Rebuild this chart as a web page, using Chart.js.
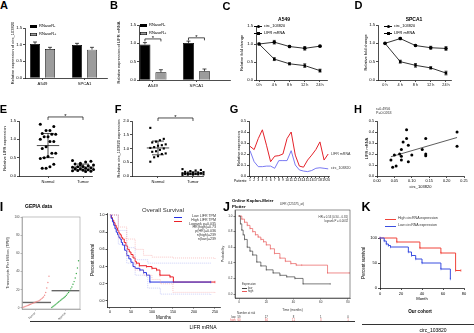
<!DOCTYPE html>
<html>
<head>
<meta charset="utf-8">
<script src="https://cdn.jsdelivr.net/npm/chart.js@4.4.1/dist/chart.umd.min.js"></script>
<style>
html, body { margin: 0; padding: 0; background: #fff; }
#page { position: relative; width: 474px; height: 333px; overflow: hidden; font-family: "Liberation Sans", Arial, sans-serif; color: #000; }
#page canvas { position: absolute; }
.t { position: absolute; white-space: nowrap; line-height: 1; }
.r { position: absolute; height: 0; }
</style>
</head>
<body>
<div id="page"></div>
<script>
const FONT = '"Liberation Sans", Arial, sans-serif';

// A / B: RNase R digestion
const cellLines = ['A549', 'SPCA1'];
const circMinus = [1.02, 0.99], circPlus = [0.87, 0.85];
const circMinusErr = [0.06, 0.05], circPlusErr = [0.05, 0.07];
const lifrMinus = [0.97, 1.01], lifrPlus = [0.21, 0.24];
const lifrMinusErr = [0.05, 0.05], lifrPlusErr = [0.07, 0.06];
const lifrBracketY = [1.12, 1.15];

// C / D: time course
const hours = ['0 h', '4 h', '8 h', '12 h', '24 h'];
const a549Circ = [1.0, 1.05, 0.93, 0.88, 0.94], a549CircErr = [0, 0.05, 0.03, 0.05, 0.02];
const a549Lifr = [1.0, 0.58, 0.45, 0.40, 0.26], a549LifrErr = [0, 0.04, 0.03, 0.05, 0.04];
const spcaCirc = [1.0, 1.13, 0.94, 0.88, 0.86], spcaCircErr = [0, 0.03, 0.02, 0.04, 0.05];
const spcaLifr = [1.0, 0.50, 0.40, 0.33, 0.19], spcaLifrErr = [0, 0.04, 0.05, 0.03, 0.05];

// E / F: tissue expression
const groups = ['Normal', 'Tumor'];
const eNormal = [1.41, 1.35, 1.24, 1.24, 1.16, 1.14, 1.14, 1.07, 1.07, 1.0, 0.94, 0.94, 0.8, 0.75, 0.62, 0.62, 0.53, 0.5, 0.48, 0.32, 0.25, 0.21, 0.21];
const eTumor = [0.42, 0.4, 0.38, 0.35, 0.33, 0.3, 0.28, 0.26, 0.25, 0.24, 0.22, 0.21, 0.2, 0.19, 0.18, 0.17, 0.16, 0.15, 0.14, 0.13, 0.12, 0.3, 0.2];
const eMean = [0.83, 0.245], eSd = [0.33, 0.08];
const fNormal = [1.75, 1.35, 1.3, 1.25, 1.22, 1.15, 1.12, 1.1, 1.05, 1.02, 1.0, 0.95, 0.9, 0.88, 0.82, 0.8, 0.72, 0.68, 0.52];
const fTumor = [0.25, 0.22, 0.2, 0.18, 0.15, 0.14, 0.12, 0.12, 0.1, 0.1, 0.09, 0.08, 0.08, 0.07, 0.06, 0.06, 0.05, 0.05, 0.04, 0.1];
const fMean = [1.02, 0.1], fSd = [0.25, 0.05];

// G / H: paired patients
const patients = [1, 2, 3, 4, 5, 6, 7, 8, 9, 10, 11, 12, 13, 14, 15, 16, 17, 18, 19, 20];
const patientLifr = [0.27, 0.24, 0.34, 0.42, 0.28, 0.13, 0.18, 0.185, 0.2, 0.34, 0.40, 0.19, 0.09, 0.08, 0.145, 0.19, 0.24, 0.31, 0.145, 0.2];
const patientCirc = [0.23, 0.13, 0.085, 0.085, 0.09, 0.09, 0.07, 0.14, 0.14, 0.14, 0.23, 0.10, 0.055, 0.045, 0.04, 0.05, 0.07, 0.075, 0.07, 0.065];
const fitX = [0.04, 0.23], fitY = [0.175, 0.35];

// I: GEPIA
const gepiaTumor = [0.5, 1, 1.5, 2, 2.5, 3, 3.5, 4, 4.5, 5, 5.5, 6, 6.5, 7, 7.5, 8, 9, 10, 11, 12, 14, 17, 22, 28, 35];
const gepiaNormal = [0.5, 1.5, 2.5, 3.5, 4.5, 5.5, 6.5, 7.5, 8.5, 9.5, 10.5, 11.5, 12.5, 14, 15.5, 17, 19, 21, 23, 26, 29, 33, 38, 44, 52];
const gepiaMedian = [6, 19];
const gepiaLabels = ['Tumor', 'Normal'];

// I: overall survival
const iHighT = [0, 3, 6, 9, 12, 15, 18, 21, 24, 27, 30, 34, 38, 42, 46, 50, 55, 60, 63, 70, 87, 100, 111, 119, 143, 151, 250];
const iHighS = [1, 0.97, 0.94, 0.91, 0.88, 0.85, 0.82, 0.79, 0.77, 0.74, 0.72, 0.68, 0.64, 0.6, 0.57, 0.54, 0.5, 0.46, 0.44, 0.41, 0.40, 0.38, 0.36, 0.30, 0.28, 0.22, 0.22];
const iLowT = [0, 3, 6, 9, 12, 15, 18, 21, 24, 27, 30, 35, 40, 45, 50, 55, 60, 71, 80, 87, 95, 240];
const iLowS = [1, 0.96, 0.92, 0.88, 0.84, 0.8, 0.77, 0.74, 0.72, 0.68, 0.65, 0.59, 0.53, 0.49, 0.45, 0.4, 0.38, 0.36, 0.33, 0.3, 0.22, 0.22];
const iHighUpT = [0, 20, 40, 60, 80, 100, 150, 250], iHighUpS = [1, 0.86, 0.72, 0.6, 0.53, 0.51, 0.5, 0.48];
const iHighLoT = [0, 20, 40, 60, 80, 100, 120, 150, 250], iHighLoS = [1, 0.73, 0.52, 0.36, 0.3, 0.25, 0.2, 0.1, 0.09];
const iLowUpT = [0, 20, 40, 60, 90, 240], iLowUpS = [1, 0.82, 0.62, 0.48, 0.44, 0.44];
const iLowLoT = [0, 20, 40, 60, 90, 120, 240], iLowLoS = [1, 0.66, 0.44, 0.3, 0.15, 0.08, 0.07];

// J: KM plotter
const jHighT = [0, 2, 4, 6, 8, 10, 12, 14, 16, 18, 20, 23, 26, 30, 34, 38, 42, 46, 65, 81];
const jHighS = [1, 0.96, 0.92, 0.88, 0.84, 0.8, 0.76, 0.73, 0.7, 0.67, 0.63, 0.58, 0.52, 0.46, 0.42, 0.39, 0.37, 0.37, 0.27, 0.27];
const jLowT = [0, 1, 2, 3, 4, 6, 8, 10, 13, 16, 20, 25, 30, 35, 41, 47, 67];
const jLowS = [1, 0.9, 0.82, 0.76, 0.7, 0.6, 0.55, 0.5, 0.41, 0.36, 0.31, 0.27, 0.24, 0.22, 0.2, 0.13, 0.13];
const riskTimes = [0, 20, 40, 60, 80];
const riskLow = [59, 17, 8, 1, 0], riskHigh = [60, 34, 11, 3, 1];

// K: our cohort
const kHighT = [0, 16, 38, 58, 72, 77], kHighS = [100, 92, 80, 70, 35, 35];
const kLowT = [0, 4, 6, 8, 10, 27, 30, 34, 40, 58, 67], kLowS = [100, 94, 88, 85, 82, 72, 65, 58, 50, 38, 18];

Chart.defaults.font.family = FONT;
Chart.defaults.color = '#000';
Chart.defaults.animation = false;

const page = document.getElementById('page');

function txt(t, x, y, size, o = {}) {
    const d = document.createElement('div');
    d.className = 't';
    d.textContent = t;
    const tx = o.align === 'center' ? '-50%' : o.align === 'right' ? '-100%' : '0';
    d.style.cssText = `left:${x}px;top:${y}px;font-size:${size}px;transform:translate(${tx},-50%);` +
        (o.bold ? 'font-weight:bold;' : '') + (o.color ? `color:${o.color};` : '');
    page.appendChild(d);
}

function rule(x1, x2, y, color = '#000', w = 0.7) {
    const d = document.createElement('div');
    d.className = 'r';
    d.style.cssText = `left:${x1}px;top:${y}px;width:${x2 - x1}px;border-top:${w}px solid ${color};`;
    page.appendChild(d);
}

function rect(x, y, w, h, fill, stroke) {
    const d = document.createElement('div');
    d.style.cssText = `position:absolute;left:${x}px;top:${y}px;width:${w}px;height:${h}px;background:${fill};` +
        (stroke ? `box-shadow:inset 0 0 0 0.6px ${stroke};` : '');
    page.appendChild(d);
}

function ticksAt(vals) {
    return s => { s.ticks = vals.map(v => ({ value: v })); };
}

function axis(o) {
    const base = {
        grid: { drawOnChartArea: false, tickLength: 2, color: '#000', lineWidth: 0.7 },
        border: { color: '#000', width: 0.7 },
        ticks: { color: '#000', font: { size: 4.2 }, padding: 1, maxRotation: 0, minRotation: 0, autoSkip: false },
        title: { display: false, color: '#000', font: { size: 4 }, padding: 0 }
    };
    for (const k in o) {
        const v = o[k];
        if (base[k] && v && typeof v === 'object' && !Array.isArray(v)) Object.assign(base[k], v);
        else base[k] = v;
    }
    return base;
}

// canvas box, plot box (page pixels), y-axis width, x-axis height
function addChart(cbox, plot, l, b, config) {
    const [cx, cy, cw, ch] = cbox;
    const [px, py, pw, ph] = plot;
    const cv = document.createElement('canvas');
    cv.width = cw; cv.height = ch;
    cv.style.cssText = `left:${cx}px;top:${cy}px;width:${cw}px;height:${ch}px`;
    page.appendChild(cv);
    const o = config.options;
    o.responsive = false;
    o.devicePixelRatio = 1;
    o.layout = { padding: { left: px - cx - l, top: py - cy, right: cx + cw - px - pw, bottom: cy + ch - py - ph - b } };
    o.plugins = Object.assign({ legend: { display: false }, tooltip: { enabled: false } }, o.plugins || {});
    o.scales.x.afterFit = s => { s.height = b; };
    o.scales.y.afterFit = s => { s.width = l; };
    config.data.datasets.forEach(d => { if (d.clip === undefined) d.clip = false; });
    return new Chart(cv, config);
}

const errorBars = {
    id: 'errorBars',
    afterDatasetsDraw(chart) {
        const { ctx } = chart;
        const y = chart.scales.y;
        chart.data.datasets.forEach((ds, i) => {
            if (!ds.errors) return;
            const meta = chart.getDatasetMeta(i);
            ctx.save();
            ctx.strokeStyle = '#000';
            ctx.lineWidth = 0.7;
            meta.data.forEach((el, j) => {
                const e = ds.errors[j];
                if (!e) return;
                const v = ds.data[j].y;
                const top = y.getPixelForValue(v + e);
                const bot = ds.errUp ? el.y : y.getPixelForValue(v - e);
                const cap = ds.errCap || 1.5;
                ctx.beginPath();
                ctx.moveTo(el.x, bot); ctx.lineTo(el.x, top);
                ctx.moveTo(el.x - cap, top); ctx.lineTo(el.x + cap, top);
                if (!ds.errUp) { ctx.moveTo(el.x - cap, bot); ctx.lineTo(el.x + cap, bot); }
                ctx.stroke();
            });
            ctx.restore();
        });
    }
};

const sigBrackets = {
    id: 'sigBrackets',
    afterDatasetsDraw(chart, args, o) {
        if (!o.items) return;
        const { ctx, scales: { x, y } } = chart;
        ctx.save();
        ctx.strokeStyle = '#000';
        ctx.fillStyle = '#000';
        ctx.lineWidth = 0.7;
        ctx.font = `6px ${FONT}`;
        ctx.textAlign = 'center';
        o.items.forEach(it => {
            let x1, x2;
            if (it.bar !== undefined) {
                x1 = chart.getDatasetMeta(0).data[it.bar].x;
                x2 = chart.getDatasetMeta(1).data[it.bar].x;
            } else {
                x1 = x.getPixelForValue(it.x1);
                x2 = x.getPixelForValue(it.x2);
            }
            const yy = y.getPixelForValue(it.y);
            ctx.beginPath();
            ctx.moveTo(x1, yy + o.drop); ctx.lineTo(x1, yy); ctx.lineTo(x2, yy); ctx.lineTo(x2, yy + o.drop);
            ctx.stroke();
            ctx.fillText('*', (x1 + x2) / 2, yy + 0.8);
        });
        ctx.restore();
    }
};

const meanSd = {
    id: 'meanSd',
    afterDatasetsDraw(chart, args, o) {
        if (!o.mean) return;
        const { ctx, scales: { x, y } } = chart;
        ctx.save();
        ctx.strokeStyle = '#000';
        ctx.lineWidth = 0.7;
        o.mean.forEach((m, i) => {
            const cx = x.getPixelForValue(i);
            const hw = x.getPixelForValue(i + o.half) - cx;
            const cw = x.getPixelForValue(i + o.cap) - cx;
            const ym = y.getPixelForValue(m);
            const yt = y.getPixelForValue(m + o.sd[i]);
            const yb = y.getPixelForValue(m - o.sd[i]);
            ctx.beginPath();
            ctx.moveTo(cx - hw, ym); ctx.lineTo(cx + hw, ym);
            ctx.moveTo(cx, yt); ctx.lineTo(cx, yb);
            ctx.moveTo(cx - cw, yt); ctx.lineTo(cx + cw, yt);
            ctx.moveTo(cx - cw, yb); ctx.lineTo(cx + cw, yb);
            ctx.stroke();
        });
        ctx.restore();
    }
};

const frame = {
    id: 'frame',
    afterDraw(chart, args, o) {
        if (!o.color) return;
        const { ctx, chartArea: a } = chart;
        ctx.save();
        ctx.strokeStyle = o.color;
        ctx.lineWidth = o.width || 0.6;
        ctx.strokeRect(a.left, a.top, a.right - a.left, a.bottom - a.top);
        ctx.restore();
    }
};

const riskTable = {
    id: 'riskTable',
    afterDraw(chart, args, o) {
        if (!o.rows) return;
        const { ctx, scales: { x }, chartArea: a } = chart;
        ctx.save();
        ctx.font = `${o.size}px ${FONT}`;
        ctx.textBaseline = 'middle';
        ctx.fillStyle = '#333';
        ctx.textAlign = 'left';
        ctx.fillText(o.title, a.left + 2, a.bottom + o.titleDy);
        o.rows.forEach(r => {
            ctx.fillStyle = r.color;
            ctx.textAlign = 'right';
            ctx.fillText(r.label, a.left + 0.5, a.bottom + r.dy);
            ctx.textAlign = 'center';
            o.times.forEach((t, i) => ctx.fillText(String(r.values[i]), x.getPixelForValue(t), a.bottom + r.dy));
        });
        ctx.restore();
    }
};

Chart.register(errorBars, sigBrackets, meanSd, frame, riskTable);

const fmt1 = v => v.toFixed(1);
const xy = (xs, ys) => xs.map((v, i) => ({ x: v, y: ys[i] }));
const idx = ys => ys.map((v, i) => ({ x: i, y: v }));
function swarm(vals, center, spread) {
    return vals.map((v, i) => ({ x: center + ((i * 7) % 9 - 4) / 4 * spread, y: v }));
}

// ---------- A ----------
function rnaseBars(cbox, plot, l, minus, plus, minusErr, plusErr, yTitle, min, max, catPct, barPct, brackets) {
    return addChart(cbox, plot, l, 10, {
        type: 'bar',
        data: {
            datasets: [
                { data: idx(minus), errors: minusErr, errUp: true, errCap: 2, backgroundColor: '#000', borderColor: '#000', borderWidth: 0.7, categoryPercentage: catPct, barPercentage: barPct },
                { data: idx(plus), errors: plusErr, errUp: true, errCap: 2, backgroundColor: '#9c9c9c', borderColor: '#000', borderWidth: 0.7, categoryPercentage: catPct, barPercentage: barPct }
            ]
        },
        options: {
            plugins: { sigBrackets: brackets },
            scales: {
                x: axis({ type: 'linear', min: min, max: max, offset: false, grid: { offset: false }, afterBuildTicks: ticksAt([0, 1]), ticks: { callback: v => cellLines[v] } }),
                y: axis({ min: 0, max: 1.5, afterBuildTicks: ticksAt([0, 0.5, 1, 1.5]), ticks: { callback: fmt1 }, title: { display: true, text: yTitle } })
            }
        }
    });
}

rnaseBars([5, 12, 107, 80], [25, 28, 82, 50], 14.4, circMinus, circPlus, circMinusErr, circPlusErr,
    'Relative expression of circ_103820', -0.417, 1.536, 0.714, 0.667, {});
rnaseBars([114, 8, 120, 90], [139, 25, 91, 55], 22.4, lifrMinus, lifrPlus, lifrMinusErr, lifrPlusErr,
    'Relative expression of LIFR mRNA', -0.32, 1.77, 0.735, 0.69,
    { drop: 2.5, items: lifrBracketY.map((v, i) => ({ bar: i, y: v })) });

// ---------- C / D ----------
function timeCourse(cbox, plot, l, circ, circErr, lifr, lifrErr, min, max) {
    return addChart(cbox, plot, l, 12, {
        type: 'line',
        data: {
            datasets: [
                { data: idx(circ), errors: circErr, borderColor: '#000', borderWidth: 0.8, pointStyle: 'circle', pointRadius: 1.8, pointBackgroundColor: '#000', pointBorderWidth: 0 },
                { data: idx(lifr), errors: lifrErr, borderColor: '#000', borderWidth: 0.8, pointStyle: 'rect', pointRadius: 1.8, pointBackgroundColor: '#000', pointBorderWidth: 0 }
            ]
        },
        options: {
            scales: {
                x: axis({ type: 'linear', min: min, max: max, afterBuildTicks: ticksAt([0, 1, 2, 3, 4]), ticks: { callback: v => hours[v], font: { size: 3.8 } } }),
                y: axis({ min: 0, max: 1.5, afterBuildTicks: ticksAt([0, 0.5, 1, 1.5]), ticks: { callback: fmt1 }, title: { display: true, text: 'Relative fold change' } })
            }
        }
    });
}

timeCourse([236, 8, 95, 90], [256, 26, 71, 54], 16.4, a549Circ, a549CircErr, a549Lifr, a549LifrErr, -0.2, 4.46);
timeCourse([360, 8, 96, 90], [378, 25, 73, 55], 14.4, spcaCirc, spcaCircErr, spcaLifr, spcaLifrErr, -0.46, 4.33);

// ---------- E / F ----------
function tissue(cbox, plot, l, normal, tumor, mean, sd, yMax, yTicks, yTitle, min, max, style, bracketY) {
    return addChart(cbox, plot, l, 10, {
        type: 'scatter',
        data: {
            datasets: [
                { data: swarm(normal, 0, 0.22), pointStyle: style, pointRadius: 1.5, backgroundColor: '#000', borderWidth: 0 },
                { data: swarm(tumor, 1, 0.3), pointStyle: style, pointRadius: 1.5, backgroundColor: '#000', borderWidth: 0 }
            ]
        },
        options: {
            plugins: {
                meanSd: { mean: mean, sd: sd, half: 0.32, cap: 0.17 },
                sigBrackets: { drop: 3, items: [{ x1: 0, x2: 1, y: bracketY }] }
            },
            scales: {
                x: axis({ type: 'linear', min: min, max: max, afterBuildTicks: ticksAt([0, 1]), ticks: { callback: v => groups[v], font: { size: 4 } } }),
                y: axis({ min: 0, max: yMax, afterBuildTicks: ticksAt(yTicks), ticks: { callback: fmt1 }, title: { display: true, text: yTitle } })
            }
        }
    });
}

tissue([0, 106, 100, 88], [19, 121, 73, 55], 16.4, eNormal, eTumor, eMean, eSd, 1.5, [0, 0.5, 1, 1.5],
    'Relative LIFR expression', -0.829, 1.257, 'circle', 1.61);
tissue([114, 106, 95, 88], [132, 121, 71, 55], 15.4, fNormal, fTumor, fMean, fSd, 2.0, [0, 0.5, 1, 1.5, 2],
    'Relative circ_103820 expression', -0.743, 1.286, 'rect', 2.11);

// ---------- G ----------
addChart([234, 106, 100, 88], [249, 121, 80, 55], 12.4, 9, {
    type: 'line',
    data: {
        datasets: [
            { data: xy(patients, patientLifr), borderColor: '#e4222a', borderWidth: 1, pointRadius: 0 },
            { data: xy(patients, patientCirc), borderColor: '#6b6bf0', borderWidth: 0.9, pointRadius: 0 }
        ]
    },
    options: {
        scales: {
            x: axis({ type: 'linear', min: 0.75, max: 20.2, afterBuildTicks: ticksAt(patients), ticks: { font: { size: 3.4 }, padding: 0.5 } }),
            y: axis({ min: 0, max: 0.5, afterBuildTicks: ticksAt([0, 0.1, 0.2, 0.3, 0.4, 0.5]), ticks: { callback: fmt1, font: { size: 3.8 } }, title: { display: true, text: 'Relative expression' } })
        }
    }
});

// ---------- H ----------
addChart([362, 104, 110, 90], [377, 121, 87, 55], 12.4, 13.4, {
    type: 'scatter',
    data: {
        datasets: [
            { data: xy(patientCirc, patientLifr), pointRadius: 1.5, backgroundColor: '#000', borderWidth: 0 },
            { data: xy(fitX, fitY), showLine: true, borderColor: '#333', borderWidth: 0.8, pointRadius: 0 }
        ]
    },
    options: {
        scales: {
            x: axis({ min: 0, max: 0.25, afterBuildTicks: ticksAt([0, 0.05, 0.1, 0.15, 0.2, 0.25]), ticks: { callback: v => v.toFixed(2), font: { size: 3.8 } }, title: { display: true, text: 'circ_103820' } }),
            y: axis({ min: 0, max: 0.5, afterBuildTicks: ticksAt([0, 0.1, 0.2, 0.3, 0.4, 0.5]), ticks: { callback: fmt1, font: { size: 3.8 } }, title: { display: true, text: 'LIFR mRNA' } })
        }
    }
});

// ---------- I (GEPIA box) ----------
const spreadX = (vals, start, width) => vals.map((v, i) => ({ x: start + i / (vals.length - 1) * width, y: v }));
addChart([2, 205, 84, 122], [22, 217, 58, 92], 16.4, 14, {
    type: 'scatter',
    data: {
        datasets: [
            { data: spreadX(gepiaTumor, 0.03, 0.9), pointRadius: 0.7, backgroundColor: '#f08c8c', borderWidth: 0 },
            { data: spreadX(gepiaNormal, 1.03, 0.92), pointRadius: 0.7, backgroundColor: '#3aab4a', borderWidth: 0 },
            { data: [{ x: 0.02, y: gepiaMedian[0] }, { x: 1.0, y: gepiaMedian[0] }], showLine: true, borderColor: '#666', borderWidth: 1.4, pointRadius: 0 },
            { data: [{ x: 1.02, y: gepiaMedian[1] }, { x: 1.98, y: gepiaMedian[1] }], showLine: true, borderColor: '#666', borderWidth: 1.4, pointRadius: 0 }
        ]
    },
    options: {
        plugins: { frame: { color: '#999', width: 0.6 } },
        scales: {
            x: axis({ type: 'linear', min: 0, max: 2, border: { color: '#999' }, grid: { color: '#999', tickLength: 1.5 },
                afterBuildTicks: ticksAt([0.45, 1.5]), ticks: { callback: v => gepiaLabels[v < 1 ? 0 : 1], font: { size: 3 }, minRotation: 45, maxRotation: 45, color: '#444' } }),
            y: axis({ min: -1.2, max: 100.2, border: { color: '#999' }, grid: { color: '#999', tickLength: 1.5 },
                afterBuildTicks: ticksAt([0, 20, 40, 60, 80, 100]), ticks: { font: { size: 3 }, color: '#444' },
                title: { display: true, text: 'Transcripts Per Million (TPM)', color: '#333' } })
        }
    }
});

// ---------- I (overall survival) ----------
const tailTick = ts => c => (ts[c.dataIndex] > 60 ? 1.2 : 0);
addChart([86, 205, 140, 122], [107, 213, 113, 94], 17.4, 13.7, {
    type: 'line',
    data: {
        datasets: [
            { data: xy(iHighUpT, iHighUpS), stepped: true, borderColor: '#f6a3a3', borderWidth: 0.6, borderDash: [1, 1], pointRadius: 0 },
            { data: xy(iHighLoT, iHighLoS), stepped: true, borderColor: '#f6a3a3', borderWidth: 0.6, borderDash: [1, 1], pointRadius: 0 },
            { data: xy(iLowUpT, iLowUpS), stepped: true, borderColor: '#a9b0f3', borderWidth: 0.6, borderDash: [1, 1], pointRadius: 0 },
            { data: xy(iLowLoT, iLowLoS), stepped: true, borderColor: '#a9b0f3', borderWidth: 0.6, borderDash: [1, 1], pointRadius: 0 },
            { data: xy(iLowT, iLowS), stepped: true, borderColor: '#2430e0', borderWidth: 1, pointStyle: 'line', rotation: 90, pointRadius: tailTick(iLowT), pointBorderColor: '#2430e0', pointBorderWidth: 0.6 },
            { data: xy(iHighT, iHighS), stepped: true, borderColor: '#ec2028', borderWidth: 1, pointStyle: 'line', rotation: 90, pointRadius: tailTick(iHighT), pointBorderColor: '#ec2028', pointBorderWidth: 0.6 }
        ]
    },
    options: {
        scales: {
            x: axis({ type: 'linear', min: -7, max: 262, grid: { tickLength: 1.5 }, afterBuildTicks: ticksAt([0, 50, 100, 150, 200, 250]), ticks: { font: { size: 3.6 } }, title: { display: true, text: 'Months', font: { size: 4.5 } } }),
            y: axis({ min: -0.07, max: 1.023, grid: { tickLength: 1.5 }, afterBuildTicks: ticksAt([0, 0.2, 0.4, 0.6, 0.8, 1]), ticks: { callback: fmt1, font: { size: 3.6 } }, title: { display: true, text: 'Percent survival', font: { size: 4.5 } } })
        }
    }
});

// ---------- J ----------
addChart([216, 202, 140, 125], [235, 210, 115, 88], 14.1, 14, {
    type: 'line',
    data: {
        datasets: [
            { data: xy(jLowT, jLowS), stepped: true, borderColor: '#444', borderWidth: 0.7, pointStyle: 'line', rotation: 90, pointRadius: 0.9, pointBorderColor: '#444', pointBorderWidth: 0.5 },
            { data: xy(jHighT, jHighS), stepped: true, borderColor: '#e85a5a', borderWidth: 0.7, pointStyle: 'line', rotation: 90, pointRadius: 0.9, pointBorderColor: '#e85a5a', pointBorderWidth: 0.5 }
        ]
    },
    options: {
        plugins: {
            frame: { color: '#222', width: 0.5 },
            riskTable: {
                size: 2.8, title: 'Number at risk', titleDy: 15, times: riskTimes,
                rows: [
                    { label: 'low', color: '#333', values: riskLow, dy: 19 },
                    { label: 'high', color: '#e85a5a', values: riskHigh, dy: 22.5 }
                ]
            }
        },
        scales: {
            x: axis({ type: 'linear', min: -3, max: 81.5, border: { width: 0.5 }, grid: { tickLength: 1.5, lineWidth: 0.5 }, afterBuildTicks: ticksAt(riskTimes), ticks: { font: { size: 3 }, color: '#333' }, title: { display: true, text: 'Time (months)', font: { size: 3.2 }, color: '#333' } }),
            y: axis({ min: -0.051, max: 1.077, border: { width: 0.5 }, grid: { tickLength: 1.5, lineWidth: 0.5 }, afterBuildTicks: ticksAt([0, 0.2, 0.4, 0.6, 0.8, 1]), ticks: { callback: fmt1, font: { size: 3 }, color: '#333' }, title: { display: true, text: 'Probability', font: { size: 3.5 }, color: '#333' } })
        }
    }
});

// ---------- K ----------
addChart([355, 228, 116, 80], [380, 238, 84, 50], 19.4, 13.4, {
    type: 'line',
    data: {
        datasets: [
            { data: xy(kLowT, kLowS), stepped: true, borderColor: '#3a4ee0', borderWidth: 1, pointStyle: 'line', rotation: 90, pointRadius: 1.2, pointBorderColor: '#3a4ee0', pointBorderWidth: 0.7 },
            { data: xy(kHighT, kHighS), stepped: true, borderColor: '#f0443a', borderWidth: 1, pointStyle: 'line', rotation: 90, pointRadius: 1.2, pointBorderColor: '#f0443a', pointBorderWidth: 0.7 }
        ]
    },
    options: {
        scales: {
            x: axis({ type: 'linear', min: 0, max: 80, afterBuildTicks: ticksAt([0, 20, 40, 60, 80]), ticks: { font: { size: 4 } }, title: { display: true, text: 'Month', font: { size: 4.2 } } }),
            y: axis({ min: 0, max: 100, afterBuildTicks: ticksAt([0, 50, 100]), ticks: { font: { size: 4 } }, title: { display: true, text: 'Percent survival', font: { size: 4.5 } } })
        }
    }
});

// ---------- panel letters ----------
[['A', 4, 4.5], ['B', 114, 4.5], ['C', 226.5, 5.5], ['D', 358.5, 5], ['E', 3.5, 109], ['F', 118, 109], ['G', 234, 109], ['H', 358, 109]]
    .forEach(([t, x, y]) => txt(t, x, y, 11, { bold: true, align: 'center' }));
[['I', 1.5, 206.5], ['J', 226.5, 207], ['K', 366, 207]]
    .forEach(([t, x, y]) => txt(t, x, y, 12.5, { bold: true, align: 'center' }));

// legends A / B
rect(30, 24.5, 7, 3, '#000');
txt('RNaseR-', 39, 26, 4);
rect(30, 32.5, 7, 3, '#9c9c9c', '#000');
txt('RNaseR+', 39, 34, 4);
rect(140, 23.5, 7, 3, '#000');
txt('RNaseR-', 149, 25, 4);
rect(140, 31.5, 7, 3, '#9c9c9c', '#000');
txt('RNaseR+', 149, 33, 4);

// legends C / D
function lineKey(x, y, round, label) {
    rule(x, x + 8, y, '#000', 0.8);
    const d = document.createElement('div');
    d.style.cssText = `position:absolute;left:${x + 2.5}px;top:${y - 1.4}px;width:3px;height:3px;background:#000;` + (round ? 'border-radius:50%;' : '');
    page.appendChild(d);
    txt(label, x + 10, y, 3.9);
}
txt('A549', 284, 19, 5, { bold: true, align: 'center' });
lineKey(254, 26, true, 'circ_103820');
lineKey(254, 33, false, 'LIFR mRNA');
txt('SPCA1', 414, 19, 5, { bold: true, align: 'center' });
lineKey(384, 26, true, 'circ_103820');
lineKey(384, 33, false, 'LIFR mRNA');

// G / H notes
txt('Patients:', 234, 182, 3.4);
txt('LIFR mRNA', 331, 155, 3.6, { color: '#333' });
txt('circ_103820', 331, 169, 3.6, { color: '#333' });
txt('r=0.4956', 376, 109.5, 3.6, { color: '#333' });
txt('P=0.0263', 376, 113.5, 3.6, { color: '#333' });

// I texts
txt('GEPIA data', 25, 205.5, 5, { bold: true });
txt('Overall Survival', 163, 210, 6, { align: 'center', color: '#333' });
rule(174, 182, 216.5, '#2430e0', 0.8);
txt('Low LIFR TPM', 216, 216.5, 3.6, { align: 'right', color: '#333' });
rule(174, 182, 220.5, '#ec2028', 0.8);
txt('High LIFR TPM', 216, 220.5, 3.6, { align: 'right', color: '#333' });
['Logrank p=0.035', 'HR(high)=0.73', 'p(HR)=0.036', 'n(high)=239', 'n(low)=239']
    .forEach((t, i) => txt(t, 216, 224.5 + i * 3.9, 3.6, { align: 'right', color: '#333' }));

// J texts
txt('Online Kaplan-Meier', 232, 200.5, 4.3, { bold: true });
txt('Plotter', 232, 206.5, 4.3, { bold: true });
txt('LIFR (225575_at)', 292, 204.5, 3.1, { align: 'center', color: '#333' });
txt('HR = 0.53 (0.34 \u2212 0.81)', 348, 217, 2.8, { align: 'right', color: '#333' });
txt('logrank P = 0.0032', 348, 220.5, 2.8, { align: 'right', color: '#333' });
txt('Expression', 242, 284, 2.8, { color: '#333' });
rule(242, 247, 287.8, '#444', 0.5);
txt('low', 248, 287.8, 2.8, { color: '#333' });
rule(242, 247, 291.3, '#e85a5a', 0.5);
txt('high', 248, 291.3, 2.8, { color: '#333' });

// K texts
rule(385, 396, 218.5, '#f0443a', 0.9);
txt('High circRNA expression', 398, 218.5, 3.6, { color: '#333' });
rule(385, 396, 226, '#3a4ee0', 0.9);
txt('Low circRNA expression', 398, 226, 3.6, { color: '#333' });
txt('Our cohort', 420, 312, 4.6, { bold: true, align: 'center' });

// group captions
rule(30, 355, 320.5, '#333', 0.7);
txt('LIFR mRNA', 203, 327, 5, { align: 'center' });
rule(362, 474, 323.5, '#333', 0.7);
txt('circ_103820', 433, 330, 5, { align: 'center' });
</script>
</body>
</html>
